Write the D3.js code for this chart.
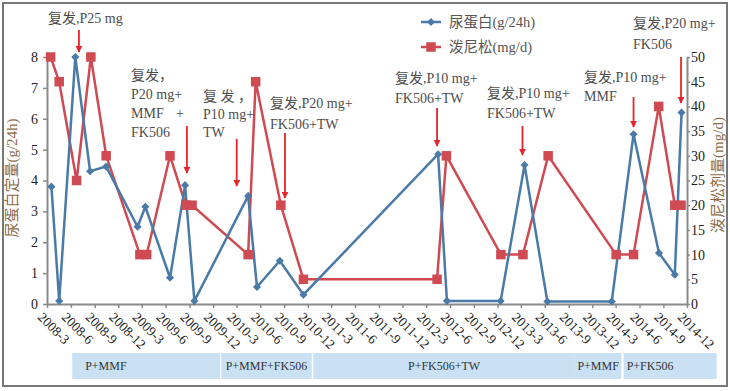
<!DOCTYPE html>
<html>
<head>
<meta charset="utf-8">
<script src="https://cdn.jsdelivr.net/npm/d3@7"></script>
<style>
body { margin: 0; background: #fff; }
text { font-family: "Liberation Serif", "Noto Sans CJK SC", serif; }
</style>
</head>
<body>
<script>
// 尿蛋白 (g/24h) - left axis
var proteinDates = ["2008-03-18","2008-04-17","2008-06-18","2008-08-14","2008-10-15","2009-02-13",
	"2009-03-15","2009-06-18","2009-08-15","2009-09-20","2010-04-15","2010-05-19","2010-08-15",
	"2010-11-14","2012-04-16","2012-05-20","2012-12-13","2013-03-15","2013-06-11","2014-02-14",
	"2014-05-09","2014-08-15","2014-10-15","2014-11-10"];
var proteinValues = [3.8,0.1,8.0,4.3,4.45,2.5,3.15,0.85,3.85,0.1,3.5,0.55,1.4,0.3,4.85,0.1,0.1,4.5,
	0.08,0.08,5.5,1.65,0.95,6.2];

// 泼尼松 (mg/d) - right axis
var predDates = ["2008-03-15","2008-04-17","2008-06-23","2008-08-17","2008-10-15","2009-02-22",
	"2009-03-20","2009-06-18","2009-08-18","2009-09-11","2010-04-15","2010-05-14","2010-08-19",
	"2010-11-14","2012-04-12","2012-05-18","2012-12-14","2013-03-09","2013-06-14","2014-03-03",
	"2014-05-09","2014-08-14","2014-10-15","2014-11-08"];
var predValues = [50,45,25,50,30,10,10,30,20,20,10,45,20,5,5,30,10,10,30,10,10,40,20,20];

var xTickLabels = [];
for (var yr = 2008; yr <= 2014; yr++) {
	[3,6,9,12].forEach(function(m){ xTickLabels.push(yr + "-" + m); });
}
var leftTicks = [0,1,2,3,4,5,6,7,8];
var rightTicks = [0,5,10,15,20,25,30,35,40,45,50];

// relapses: arrow date + note text
var relapseDates = ["2008-07-02","2009-08-22","2010-03-02","2010-09-04","2012-04-12","2013-03-07","2014-05-09","2014-11-08"];
var relapseNotes = [
	["复发,P25 mg"],
	["复发，","P20 mg+","MMF","FK506"],
	["复 发 ，","P10 mg+","TW"],
	["复发,P20 mg+","FK506+TW"],
	["复发,P10 mg+","FK506+TW"],
	["复发,P10 mg+","FK506+TW"],
	["复发,P10 mg+","MMF"],
	["复发,P20 mg+","FK506"]
];

// treatment periods
var periodStarts = ["2008-06-06","2010-01-01","2010-12-22","2013-09-25","2014-04-01"];
var periodEnds   = ["2009-12-28","2010-12-16","2013-09-25","2014-03-23","2015-03-25"];
var periodLabels = ["P+MMF","P+MMF+FK506","P+FK506+TW","P+MMF","P+FK506"];

// layout for the notes (text x, first line center y, line gap, arrow top/bottom)
var noteLayout = [
	{tx:48, ty:18, gap:20, a1:30, a2:52},
	{tx:131, ty:75, gap:19, a1:126, a2:173},
	{tx:203, ty:96, gap:18, a1:139, a2:186},
	{tx:270, ty:103, gap:21, a1:133, a2:198},
	{tx:395, ty:78, gap:20.5, a1:108, a2:146},
	{tx:487, ty:93, gap:20.5, a1:126, a2:155},
	{tx:584, ty:77, gap:19.5, a1:97, a2:127},
	{tx:633, ty:23, gap:21, a1:57, a2:103}
];
var periodAlign = ["left","middle","middle","middle","left"];

var W = 730, H = 391;
var blue = "#4a7aa7", red = "#cf4a52", arrowRed = "#e8232b", axisGrey = "#8a8a8a";
var parse = d3.timeParse("%Y-%m-%d"), parseM = d3.timeParse("%Y-%m");

var svg = d3.select("body").append("svg").attr("width", W).attr("height", H);

svg.append("rect").attr("x",3).attr("y",3).attr("width",724).attr("height",383)
	.attr("fill","none").attr("stroke","#777").attr("stroke-width",2);

var x = d3.scaleTime().domain([parseM("2008-3"), parseM("2014-12")]).range([47, 687]);
var yL = d3.scaleLinear().domain([0, 8]).range([304, 57]);
var yR = d3.scaleLinear().domain([0, 50]).range([304, 57]);

// axes
var gL = svg.append("g").attr("transform","translate(47,0)")
	.call(d3.axisLeft(yL).tickValues(leftTicks).tickSize(4).tickSizeOuter(0).tickPadding(5));
var gR = svg.append("g").attr("transform","translate(687,0)")
	.call(d3.axisRight(yR).tickValues(rightTicks).tickSize(3).tickSizeOuter(0).tickPadding(1));
var gB = svg.append("g").attr("transform","translate(0,304)")
	.call(d3.axisBottom(x).tickValues(xTickLabels.map(parseM)).tickSize(4).tickSizeOuter(0).tickFormat(""));
[gL, gR, gB].forEach(function(g){
	g.select(".domain").attr("stroke", axisGrey).attr("stroke-width", 2);
	g.selectAll(".tick line").attr("stroke", axisGrey).attr("stroke-width", 1.5);
	g.selectAll(".tick text").attr("fill", "#222").style("font-size","14px")
		.style("font-family", '"Liberation Serif", serif');
});

svg.selectAll(".xlab").data(xTickLabels).enter().append("text")
	.attr("class","xlab")
	.attr("transform", function(d){ return "translate(" + (x(parseM(d)) - 10) + ",318) rotate(45)"; })
	.attr("fill","#222").style("font-size","13.5px")
	.text(function(d){ return d; });

// axis titles
svg.append("text").attr("transform","translate(12,178) rotate(-90)")
	.attr("text-anchor","middle").attr("dy","0.35em")
	.attr("fill","#8b6c48").style("font-size","15px").text("尿蛋白定量(g/24h)");
svg.append("text").attr("transform","translate(718,175) rotate(-90)")
	.attr("text-anchor","middle").attr("dy","0.35em")
	.attr("fill","#8b6c48").style("font-size","15px").text("泼尼松剂量(mg/d)");

// treatment bands
var periods = periodLabels.map(function(l,i){
	return {label:l, s:parse(periodStarts[i]), e:parse(periodEnds[i]), align:periodAlign[i]};
});
svg.selectAll(".band").data(periods).enter().append("rect")
	.attr("x", function(d){ return x(d.s); })
	.attr("width", function(d){ return x(d.e) - x(d.s); })
	.attr("y", 353).attr("height", 26)
	.attr("fill","#c9e1f3");
svg.selectAll(".bandlab").data(periods).enter().append("text")
	.attr("x", function(d, i){
		if (d.align == "left") return x(d.s) + (i == 0 ? 13 : 3);
		return (x(d.s) + x(d.e)) / 2;
	})
	.attr("y", 366).attr("dy","0.35em")
	.attr("text-anchor", function(d){ return d.align == "left" ? "start" : "middle"; })
	.attr("fill","#333").style("font-size","12px")
	.text(function(d){ return d.label; });

// series
var protein = proteinDates.map(function(d,i){ return {date:parse(d), v:proteinValues[i]}; });
var pred = predDates.map(function(d,i){ return {date:parse(d), v:predValues[i]}; });

svg.append("path").datum(pred)
	.attr("fill","none").attr("stroke",red).attr("stroke-width",2.5)
	.attr("d", d3.line().x(function(d){ return x(d.date); }).y(function(d){ return yR(d.v); }));
svg.append("path").datum(protein)
	.attr("fill","none").attr("stroke",blue).attr("stroke-width",2.5)
	.attr("d", d3.line().x(function(d){ return x(d.date); }).y(function(d){ return yL(d.v); }));

svg.selectAll(".sq").data(pred).enter().append("rect")
	.attr("x", function(d){ return x(d.date) - 4.75; })
	.attr("y", function(d){ return yR(d.v) - 4.75; })
	.attr("width", 9.5).attr("height", 9.5).attr("fill", red);

var diamond = d3.symbol().type(d3.symbolDiamond2).size(42);
svg.selectAll(".dm").data(protein).enter().append("path")
	.attr("d", diamond)
	.attr("transform", function(d){ return "translate(" + x(d.date) + "," + yL(d.v) + ")"; })
	.attr("fill", blue);

// legend
svg.append("line").attr("x1",421).attr("x2",441).attr("y1",22).attr("y2",22)
	.attr("stroke",blue).attr("stroke-width",2.5);
svg.append("path").attr("d", diamond).attr("transform","translate(431,22)").attr("fill",blue);
svg.append("text").attr("x",449).attr("y",22).attr("dy","0.35em").attr("fill","#555")
	.style("font-size","14.5px").text("尿蛋白(g/24h)");
svg.append("line").attr("x1",421).attr("x2",441).attr("y1",47).attr("y2",47)
	.attr("stroke",red).attr("stroke-width",2.5);
svg.append("rect").attr("x",426.25).attr("y",42.25).attr("width",9.5).attr("height",9.5).attr("fill",red);
svg.append("text").attr("x",449).attr("y",47).attr("dy","0.35em").attr("fill","#555")
	.style("font-size","14.5px").text("泼尼松(mg/d)");

// relapse notes & arrows
svg.append("defs").append("marker").attr("id","arr")
	.attr("viewBox","0 0 10 10").attr("refX",9).attr("refY",5)
	.attr("markerWidth",4).attr("markerHeight",4).attr("orient","auto")
	.append("path").attr("d","M0,0L10,5L0,10z").attr("fill",arrowRed);

relapseDates.forEach(function(ds, i){
	var L = noteLayout[i];
	var ax = x(parse(ds));
	svg.append("line").attr("x1",ax).attr("x2",ax).attr("y1",L.a1).attr("y2",L.a2)
		.attr("stroke",arrowRed).attr("stroke-width",1.8).attr("marker-end","url(#arr)");
	relapseNotes[i].forEach(function(t, j){
		svg.append("text").attr("x",L.tx).attr("y",L.ty + j*L.gap).attr("dy","0.35em")
			.attr("fill","#4d4d4d").style("font-size","14px").text(t);
	});
});
// the stray "+" after MMF in the second note
svg.append("text").attr("x",176).attr("y",75 + 2*19).attr("dy","0.35em")
	.attr("fill","#4d4d4d").style("font-size","14px").text("+");
</script>
</body>
</html>
